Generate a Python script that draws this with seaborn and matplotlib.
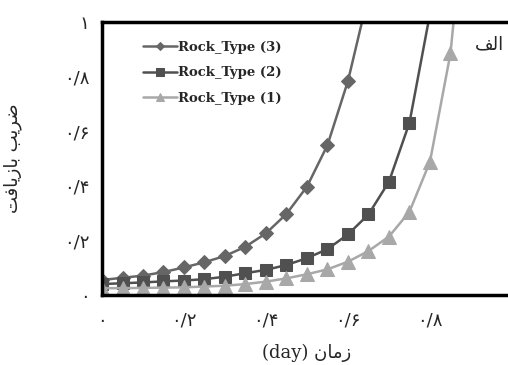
import pandas as pd
import matplotlib.pyplot as plt
import seaborn as sns

# داده ها (خوانده شده از نمودار)
t3 = [0.0, 0.05, 0.10, 0.15, 0.20, 0.25, 0.30, 0.35, 0.40, 0.45, 0.50, 0.55, 0.60, 0.65]
rf3 = [0.055, 0.063, 0.071, 0.084, 0.101, 0.120, 0.143, 0.177, 0.226, 0.297, 0.397, 0.549, 0.784, 1.10]

t2 = [0.0, 0.05, 0.10, 0.15, 0.20, 0.25, 0.30, 0.35, 0.40, 0.45, 0.50, 0.55, 0.60, 0.65, 0.70, 0.75, 0.80]
rf2 = [0.040, 0.043, 0.046, 0.050, 0.053, 0.058, 0.067, 0.080, 0.092, 0.110, 0.135, 0.168, 0.222, 0.295, 0.415, 0.631, 1.03]

t1 = [0.0, 0.05, 0.10, 0.15, 0.20, 0.25, 0.30, 0.35, 0.40, 0.45, 0.50, 0.55, 0.60, 0.65, 0.70, 0.75, 0.80, 0.85, 0.90]
rf1 = [0.025, 0.025, 0.026, 0.027, 0.028, 0.031, 0.034, 0.040, 0.049, 0.061, 0.076, 0.094, 0.122, 0.161, 0.214, 0.305, 0.488, 0.885, 1.65]

labels = ['Rock_Type (3)', 'Rock_Type (2)', 'Rock_Type (1)']
ticks = [0, 0.2, 0.4, 0.6, 0.8, 1.0]
tick_labels = ['۰', '۰/۲', '۰/۴', '۰/۶', '۰/۸', '۱']

# متن فارسی به صورت شکل های نمایشی (matplotlib شکل دهی عربی ندارد)
ylab = '\uFE96\uFED3\uFE8E\uFEF3\uFEAF\uFE8E\uFE91 \uFE90\uFEF3\uFEAE\uFEBF'   # ضریب بازیافت
xlab = '(day) \uFEE5\uFE8E\uFEE3\uFEAF'                                        # زمان (day)
panel = '\uFED2\uFEDF\uFE8D'                                                  # الف

df = pd.concat([
    pd.DataFrame({'t': t3, 'rf': rf3, 'rock': labels[0]}),
    pd.DataFrame({'t': t2, 'rf': rf2, 'rock': labels[1]}),
    pd.DataFrame({'t': t1, 'rf': rf1, 'rock': labels[2]}),
])

sns.set_style('white')
plt.rcParams['font.family'] = ['DejaVu Sans']

fig = plt.figure(figsize=(5.08, 3.65), dpi=100)
ax = fig.add_axes([0.2008, 0.1918, 0.807, 0.748])

styles = {
    labels[0]: dict(color='#666666', marker='D', ms=7),
    labels[1]: dict(color='#505050', marker='s', ms=8.5),
    labels[2]: dict(color='#a8a8a8', marker='^', ms=9.5),
}
for lab in labels:
    s = styles[lab]
    sns.lineplot(data=df[df.rock == lab], x='t', y='rf', ax=ax, label=lab,
                 color=s['color'], marker=s['marker'], markersize=s['ms'],
                 markeredgecolor=s['color'], linewidth=1.8, sort=False)

ax.set_xlim(0, 1)
ax.set_ylim(0, 1)
ax.set_xticks(ticks)
ax.set_xticklabels(tick_labels, fontsize=13)
ax.set_yticks(ticks)
ax.set_yticklabels(tick_labels, fontsize=13)
ax.tick_params(axis='both', length=3, color='#aaaaaa', direction='out')
ax.tick_params(axis='x', pad=9)
ax.tick_params(axis='y', pad=6)
ax.set_xlabel(xlab, fontsize=13, labelpad=10, family=['DejaVu Serif', 'DejaVu Sans'])
ax.set_ylabel(ylab, fontsize=13, labelpad=30)

for side in ['left', 'bottom', 'top', 'right']:
    ax.spines[side].set_color('black')
    ax.spines[side].set_linewidth(2.5)

ax.text(0.946, 0.916, panel, transform=ax.transAxes, fontsize=13,
        ha='center', va='center')

leg = ax.legend(loc='upper left', bbox_to_anchor=(0.07, 0.975), frameon=False,
                handlelength=2.6, handletextpad=0.1, labelspacing=0.95,
                markerscale=0.6, prop={'family': 'DejaVu Serif', 'weight': 'bold', 'size': 9.5})

fig.savefig('out.png', dpi=100)
